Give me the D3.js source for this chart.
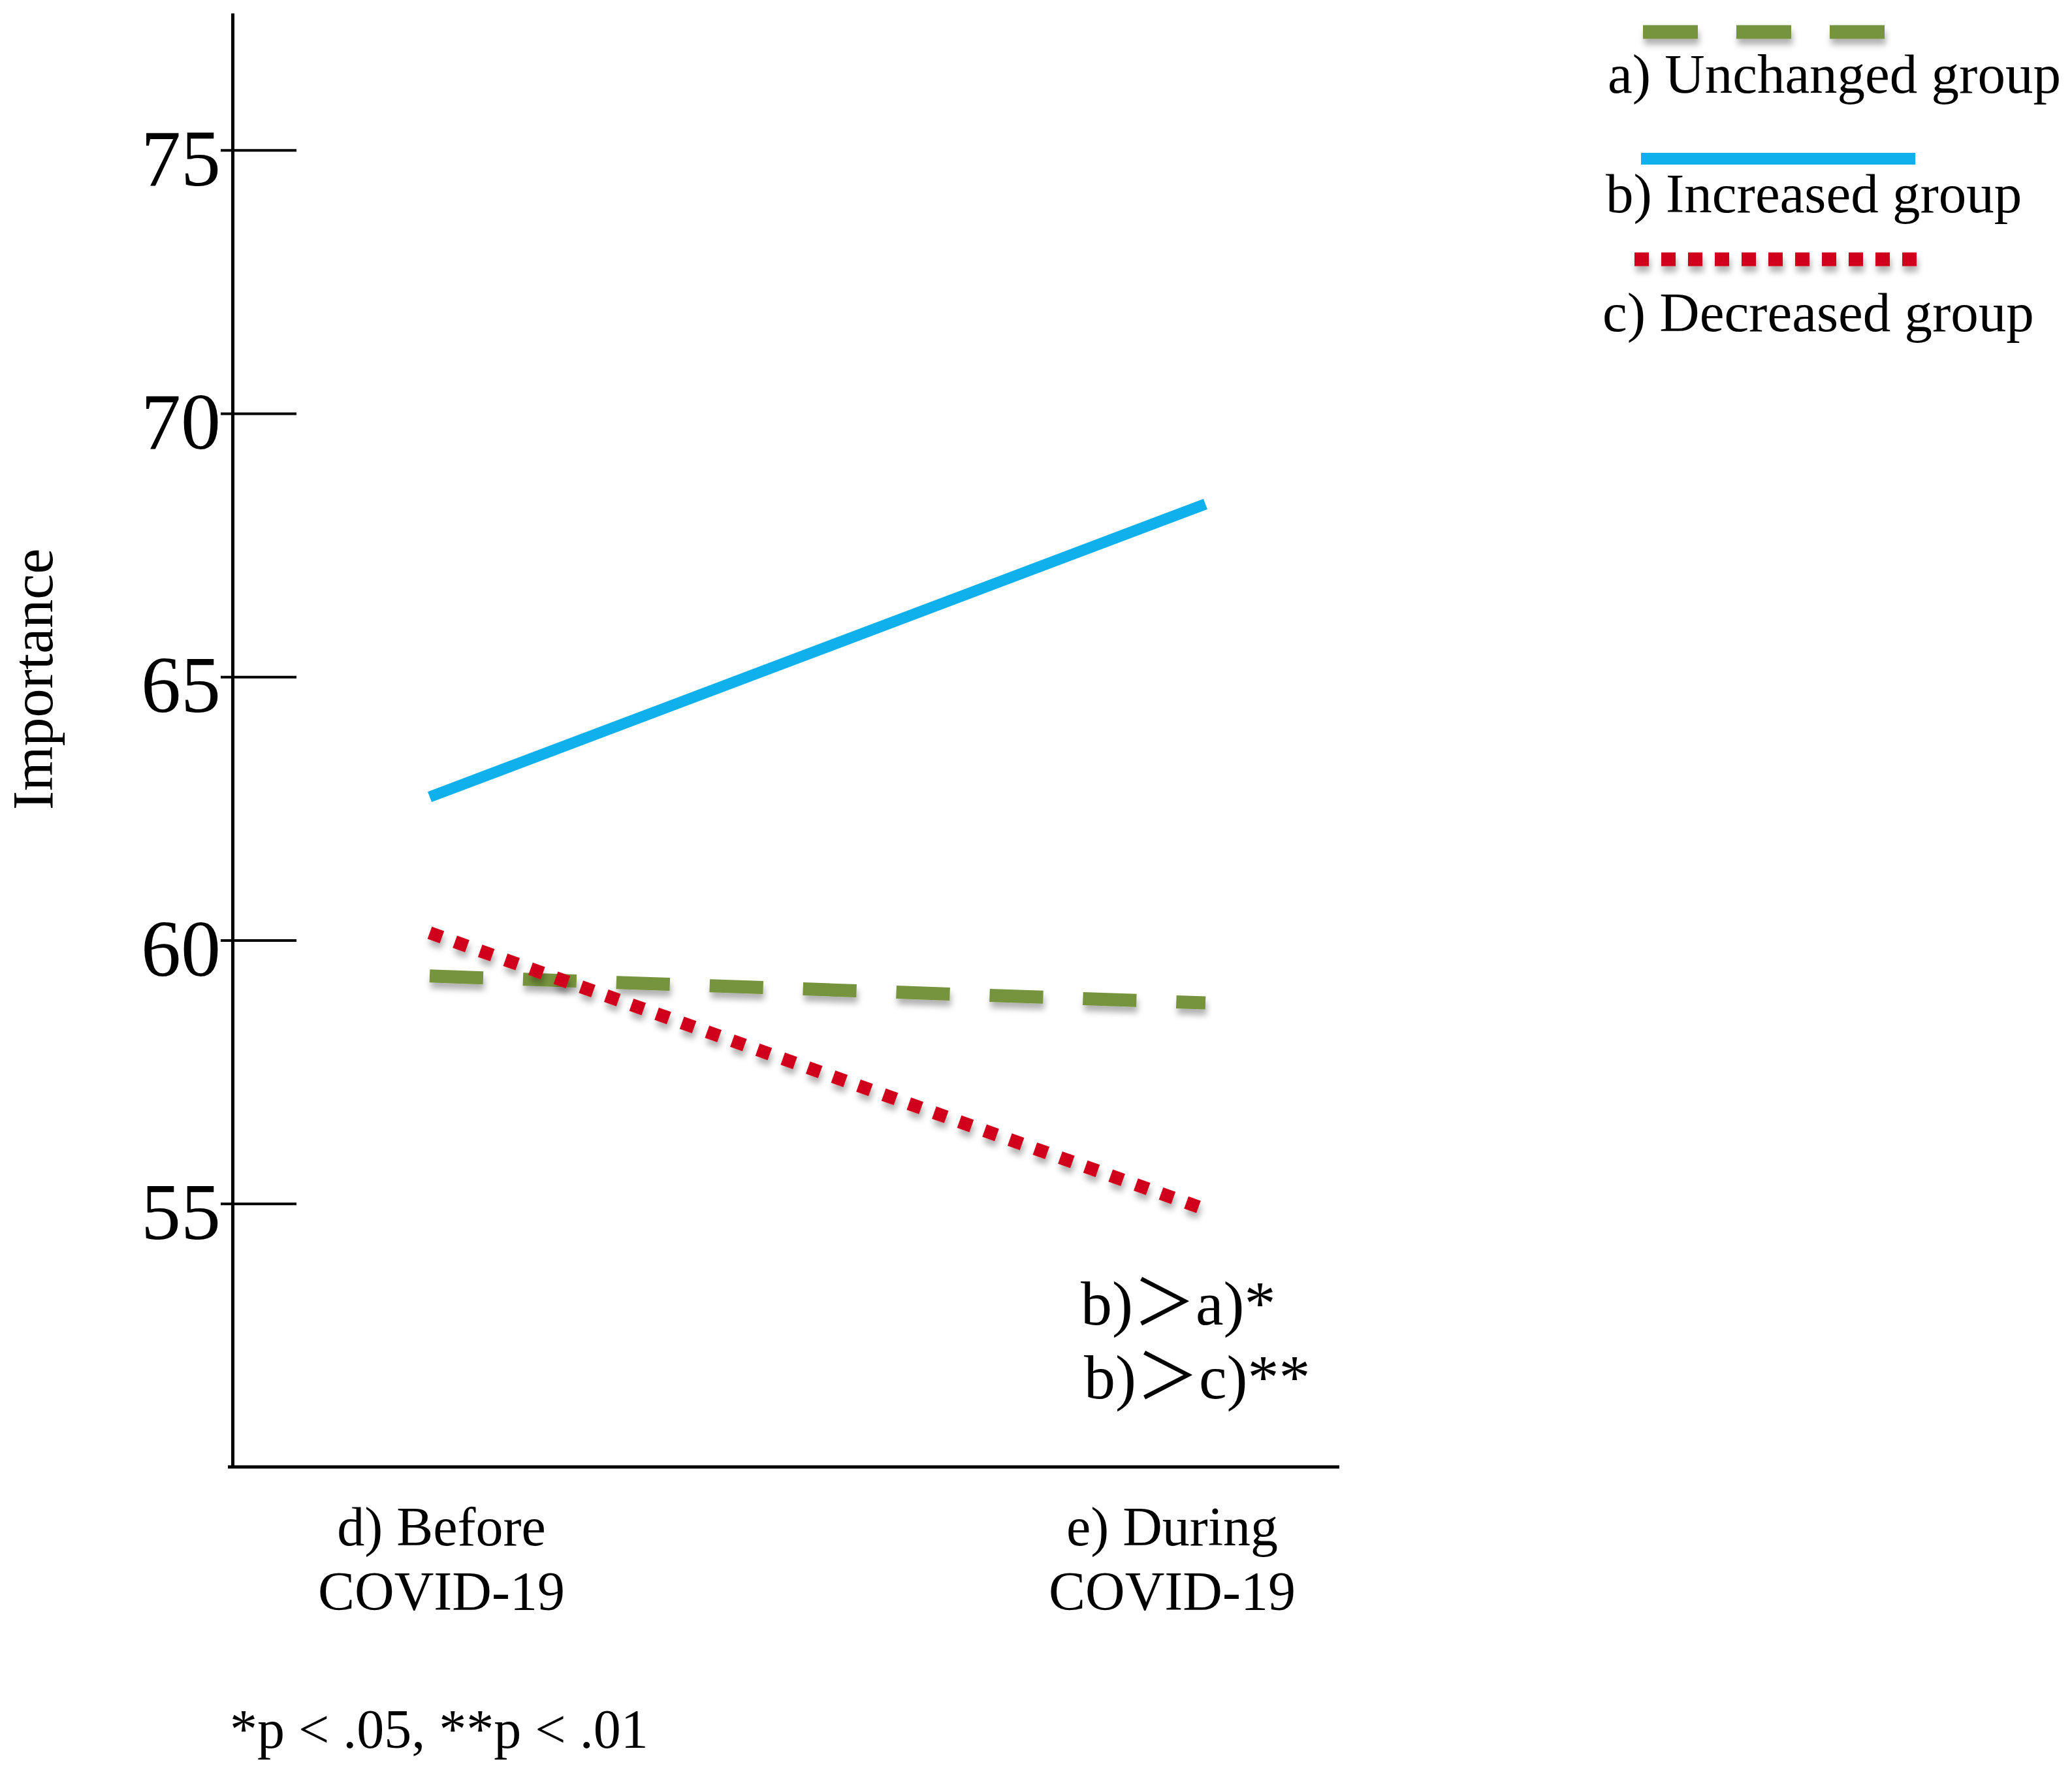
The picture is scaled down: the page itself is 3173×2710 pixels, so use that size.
<!DOCTYPE html>
<html>
<head>
<meta charset="utf-8">
<script src="https://cdn.jsdelivr.net/npm/d3@7"></script>
<style>
  body { margin: 0; background: #fff; }
  text { font-family: "Liberation Serif", "Times New Roman", "Noto Sans CJK JP", serif; fill: #000; }
</style>
</head>
<body>
<script>
var width = 3173,
    height = 2710;

// data
var periods = ["Before", "During"];
var periodLabels = [["d) Before", "COVID-19"], ["e) During", "COVID-19"]];
var unchanged = [59.32, 58.81];
var increased = [62.72, 68.28];
var decreased = [60.14, 54.89];
var groupNames = ["a) Unchanged group", "b) Increased group", "c) Decreased group"];
var yTicks = [55, 60, 65, 70, 75];
var notes = ["b)\uFF1Ea)*", "b)\uFF1Ec)**"];
var footnote = "*p < .05, **p < .01";

var series = [
    {name: groupNames[0], values: unchanged, color: "#76933c", width: 20, dash: "82,61", shadow: true},
    {name: groupNames[1], values: increased, color: "#0fb0ec", width: 17, dash: null, shadow: false},
    {name: groupNames[2], values: decreased, color: "#d0021b", width: 20, dash: "20,21", shadow: true}
];

var svg = d3.select("body").append("svg")
    .attr("width", width)
    .attr("height", height);

// soft grey shadow under the dashed keys, like the office export
var defs = svg.append("defs");
defs.append("filter")
    .attr("id", "shade")
    .attr("filterUnits", "userSpaceOnUse")
    .attr("x", 0).attr("y", 0)
    .attr("width", width).attr("height", height)
  .append("feDropShadow")
    .attr("dx", 2).attr("dy", 9)
    .attr("stdDeviation", 5)
    .attr("flood-color", "#000")
    .attr("flood-opacity", 0.3);

var x = d3.scalePoint().domain(periods).range([658, 1846]);
var y = d3.scaleLinear().domain([50, 77.6]).range([2246, 20]);

// y axis
var yAxis = svg.append("g")
    .attr("transform", "translate(356,0)")
    .call(d3.axisLeft(y).tickValues(yTicks).tickSize(-98).tickSizeOuter(0).tickPadding(18));

yAxis.select(".domain").attr("stroke", "#000").attr("stroke-width", 5);
yAxis.selectAll(".tick line")
    .attr("x1", -18)
    .attr("stroke", "#000")
    .attr("stroke-width", 4);
yAxis.selectAll(".tick text")
    .attr("dy", "0.44em")
    .style("font-size", "122px")
    .style("font-family", "'Liberation Serif', serif");

// x axis line
svg.append("line")
    .attr("x1", 349).attr("x2", 2051)
    .attr("y1", y(50)).attr("y2", y(50))
    .attr("stroke", "#000")
    .attr("stroke-width", 5);

// y label
svg.append("text")
    .attr("transform", "translate(80,1040) rotate(-90)")
    .attr("text-anchor", "middle")
    .style("font-size", "88px")
    .text("Importance");

// period labels
var labelShift = [18, -51];
var xlab = svg.selectAll(".xlab")
    .data(periods)
    .enter().append("text")
    .attr("class", "xlab")
    .attr("text-anchor", "middle")
    .attr("x", function(d, i) { return x(d) + labelShift[i]; })
    .attr("y", 2366)
    .style("font-size", "84px");

xlab.append("tspan").text(function(d, i) { return periodLabels[i][0]; });
xlab.append("tspan")
    .attr("x", function(d, i) { return x(d) + labelShift[i]; })
    .attr("dy", 99)
    .text(function(d, i) { return periodLabels[i][1]; });

// lines
var line = d3.line()
    .x(function(d, i) { return x(periods[i]); })
    .y(function(d) { return y(d); });

svg.selectAll(".group")
    .data(series)
    .enter().append("path")
    .attr("class", "group")
    .attr("d", function(d) { return line(d.values); })
    .attr("fill", "none")
    .attr("stroke", function(d) { return d.color; })
    .attr("stroke-width", function(d) { return d.width; })
    .attr("stroke-dasharray", function(d) { return d.dash; })
    .attr("filter", function(d) { return d.shadow ? "url(#shade)" : null; });

// legend
var legendKey = [
    {y: 49, x1: 2516, x2: 2886},
    {y: 243, x1: 2513, x2: 2933},
    {y: 397, x1: 2503, x2: 2935}
];
var legendText = [{x: 2462, y: 142}, {x: 2459, y: 325}, {x: 2454, y: 507}];

var legend = svg.selectAll(".legend")
    .data(series)
    .enter().append("g")
    .attr("class", "legend");

legend.append("line")
    .attr("x1", function(d, i) { return legendKey[i].x1; })
    .attr("x2", function(d, i) { return legendKey[i].x2; })
    .attr("y1", function(d, i) { return legendKey[i].y; })
    .attr("y2", function(d, i) { return legendKey[i].y; })
    .attr("stroke", function(d) { return d.color; })
    .attr("stroke-width", function(d) { return d.width + 1; })
    .attr("stroke-dasharray", function(d, i) { return i === 0 ? "84,59" : (i === 2 ? "22,19" : null); })
    .attr("filter", function(d) { return d.shadow ? "url(#shade)" : null; });

legend.append("text")
    .attr("x", function(d, i) { return legendText[i].x; })
    .attr("y", function(d, i) { return legendText[i].y; })
    .style("font-size", "85px")
    .text(function(d) { return d.name; });

// significance notes
svg.selectAll(".note")
    .data(notes)
    .enter().append("text")
    .attr("class", "note")
    .attr("x", function(d, i) { return i === 0 ? 1655 : 1660; })
    .attr("y", function(d, i) { return i === 0 ? 2028 : 2141; })
    .style("font-size", "96px")
    .text(function(d) { return d; });

svg.append("text")
    .attr("x", 352)
    .attr("y", 2676)
    .style("font-size", "84px")
    .text(footnote);
</script>
</body>
</html>
